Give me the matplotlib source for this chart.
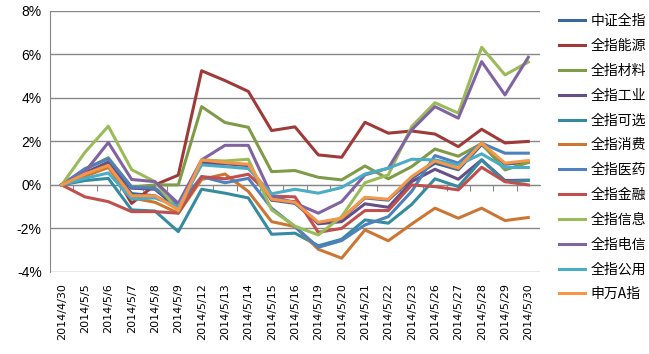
import matplotlib
matplotlib.use("Agg")
import matplotlib.pyplot as plt
from matplotlib.ticker import FuncFormatter

plt.rcParams["font.family"] = ["Noto Sans CJK SC", "DejaVu Sans"]

# Dates (category axis)
dates = ["2014/4/30", "2014/5/5", "2014/5/6", "2014/5/7", "2014/5/8", "2014/5/9",
         "2014/5/12", "2014/5/13", "2014/5/14", "2014/5/15", "2014/5/16",
         "2014/5/19", "2014/5/20", "2014/5/21", "2014/5/22", "2014/5/23",
         "2014/5/26", "2014/5/27", "2014/5/28", "2014/5/29", "2014/5/30"]

# cumulative return, %
zz_all = [0, 0.55, 1.0, -0.4, -0.5, -1.1, 1.1, 1.0, 0.9, -0.7, -0.85, -1.75,
          -1.55, -0.6, -0.7, 0.3, 1.0, 0.7, 1.85, 0.95, 1.05]
energy = [0, 0.55, 0.95, -0.85, 0.0, 0.45, 5.25, 4.8, 4.3, 2.5, 2.67, 1.38,
          1.27, 2.88, 2.38, 2.48, 2.34, 1.76, 2.56, 1.93, 2.0]
material = [0, 0.7, 1.25, -0.1, 0.0, 0.0, 3.6, 2.87, 2.65, 0.61, 0.66, 0.35,
            0.23, 0.87, 0.28, 0.84, 1.65, 1.32, 1.9, 0.69, 1.03]
industry = [0, 0.55, 1.05, -0.15, -0.2, -1.1, 1.0, 0.97, 0.89, -0.69, -0.77, -1.79,
            -1.69, -0.87, -1.03, 0.15, 0.72, 0.26, 1.15, 0.2, 0.22]
cons_disc = [0, 0.2, 0.3, -1.15, -1.2, -2.15, -0.2, -0.38, -0.6, -2.27, -2.22, -2.8,
             -2.5, -1.61, -1.76, -0.9, 0.28, -0.08, 1.15, 0.15, 0.2]
cons_stap = [0, 0.4, 0.8, -0.6, -0.8, -1.3, 0.25, 0.5, -0.3, -1.69, -1.92, -2.96,
             -3.37, -2.07, -2.57, -1.8, -1.07, -1.53, -1.07, -1.64, -1.5]
health = [0, 0.75, 1.2, -0.1, -0.15, -0.95, 0.38, 0.1, 0.3, -1.07, -1.92, -2.87,
          -2.56, -1.84, -1.46, -0.3, 1.35, 1.0, 1.92, 1.46, 1.46]
finance = [0, -0.55, -0.77, -1.23, -1.23, -1.3, 0.38, 0.28, 0.49, -0.52, -0.55, -2.18,
           -2.0, -1.18, -1.18, 0.0, -0.08, -0.23, 0.81, 0.15, 0.0]
info = [0, 1.5, 2.7, 0.7, 0.15, -1.2, 1.15, 1.1, 1.18, -1.15, -1.9, -2.3,
        -1.46, 0.1, 0.46, 2.68, 3.78, 3.3, 6.33, 5.06, 5.65]
telecom = [0, 0.6, 1.95, 0.25, 0.15, -0.85, 1.15, 1.82, 1.82, -0.5, -0.84, -1.3,
           -0.77, 0.46, 0.77, 2.53, 3.6, 3.07, 5.67, 4.14, 5.87]
utility = [0, 0.3, 0.55, -0.65, -0.6, -1.0, 0.92, 0.84, 0.75, -0.41, -0.2, -0.38,
           -0.12, 0.5, 0.77, 1.18, 1.15, 0.92, 1.43, 0.8, 0.8]
sw_a = [0, 0.5, 0.9, -0.5, -0.5, -1.15, 1.15, 1.03, 0.95, -0.66, -0.8, -1.72,
        -1.53, -0.57, -0.66, 0.38, 1.1, 0.77, 1.92, 1.0, 1.12]

names = ["中证全指", "全指能源", "全指材料", "全指工业", "全指可选", "全指消费",
         "全指医药", "全指金融", "全指信息", "全指电信", "全指公用", "申万A指"]
series = [zz_all, energy, material, industry, cons_disc, cons_stap,
          health, finance, info, telecom, utility, sw_a]
colors = ["#3A679C", "#9E3B38", "#7F9B48", "#664F86", "#378BA1", "#CB7733",
          "#4F81BD", "#C0504D", "#9BBB59", "#8064A2", "#4BACC6", "#F79646"]

fig = plt.figure(figsize=(6.49, 3.54), dpi=100)
ax = fig.add_axes([0.077, 0.232, 0.755, 0.737])

x = list(range(len(dates)))
for vals, name, c in zip(series, names, colors):
    ax.plot(x, vals, color=c, lw=2.2, label=name, solid_joinstyle="round")

ax.set_xlim(-0.5, len(dates) - 0.5)
ax.set_ylim(-4, 8)
ax.set_yticks(range(-4, 9, 2))
ax.yaxis.set_major_formatter(FuncFormatter(lambda v, p: f"{v:.0f}%"))
ax.grid(axis="y", color="#878787", lw=1)
ax.set_axisbelow(True)
for s in ["top", "right", "bottom"]:
    ax.spines[s].set_visible(False)
ax.spines["left"].set_color("#878787")
ax.tick_params(axis="y", length=0, pad=6)
for lab in ax.get_yticklabels():
    lab.set_fontfamily("Liberation Sans")
    lab.set_fontsize(10)

ax.set_xticks(x)
ax.set_xticklabels(dates, rotation=90, fontsize=8, family="DejaVu Sans")
ax.tick_params(axis="x", length=0, pad=8)

# category boundary ticks on the 0% line
sec = ax.secondary_xaxis(1 / 3)
sec.set_xticks([i + 0.5 for i in x[:-1]])
sec.set_xticklabels([])
sec.tick_params(axis="x", direction="out", length=4, color="#878787")
sec.spines["bottom"].set_color("#878787")

ax.legend(loc="upper left", bbox_to_anchor=(1.018, 1.025), frameon=False,
          fontsize=10, handlelength=1.9, labelspacing=0.78, handletextpad=0.4,
          borderaxespad=0.3)

fig.savefig("out.png", dpi=100)
